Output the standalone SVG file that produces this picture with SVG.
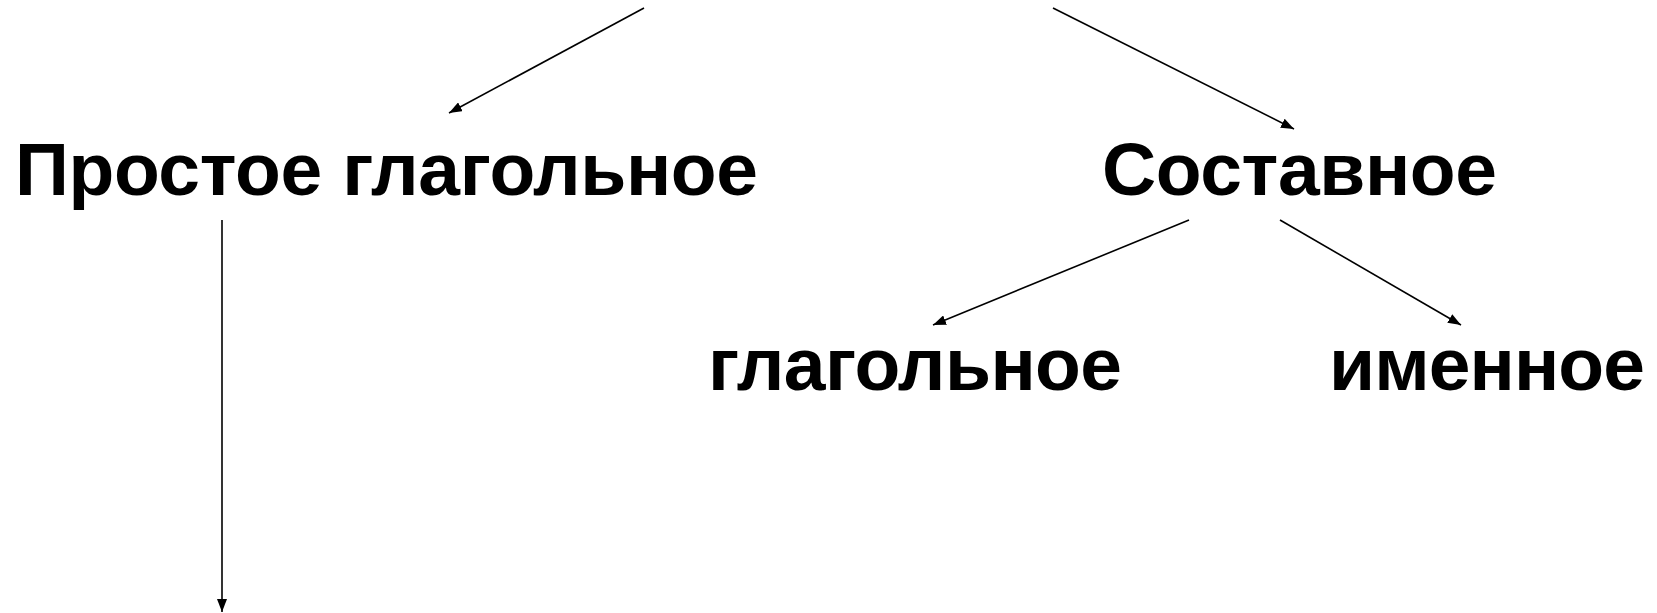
<svg xmlns="http://www.w3.org/2000/svg" width="1657" height="613" viewBox="0 0 1657 613">
<style>
.t{font-family:"Liberation Sans",Arial,sans-serif;font-weight:bold;font-size:75px;fill:#000}
.c{stroke:#000;stroke-width:1.6;fill:none;marker-end:url(#a)}
</style>
<defs>
<marker id="a" viewBox="0 0 13 10" refX="13" refY="5" markerWidth="13" markerHeight="10" markerUnits="userSpaceOnUse" orient="auto">
<path d="M0,0 L13,5 L0,10 z" fill="#000"/>
</marker>
</defs>
<rect width="1657" height="613" fill="#fff"/>
<g id="connectors">
<line class="c" x1="644" y1="8" x2="449" y2="113"/>
<line class="c" x1="1053" y1="8" x2="1294" y2="129"/>
<line class="c" x1="1189" y1="220" x2="933" y2="325"/>
<line class="c" x1="1280" y1="220" x2="1461" y2="325"/>
<line class="c" x1="222" y1="220" x2="222" y2="612"/>
</g>
<g id="n1"><text class="t" x="15" y="195" textLength="743" lengthAdjust="spacing">Простое глагольное</text></g>
<g id="n2"><text class="t" x="1102" y="195" textLength="395" lengthAdjust="spacing">Составное</text></g>
<g id="n3"><text class="t" x="708" y="390" textLength="414" lengthAdjust="spacing">глагольное</text></g>
<g id="n4"><text class="t" x="1329" y="390" textLength="316" lengthAdjust="spacing">именное</text></g>
</svg>
